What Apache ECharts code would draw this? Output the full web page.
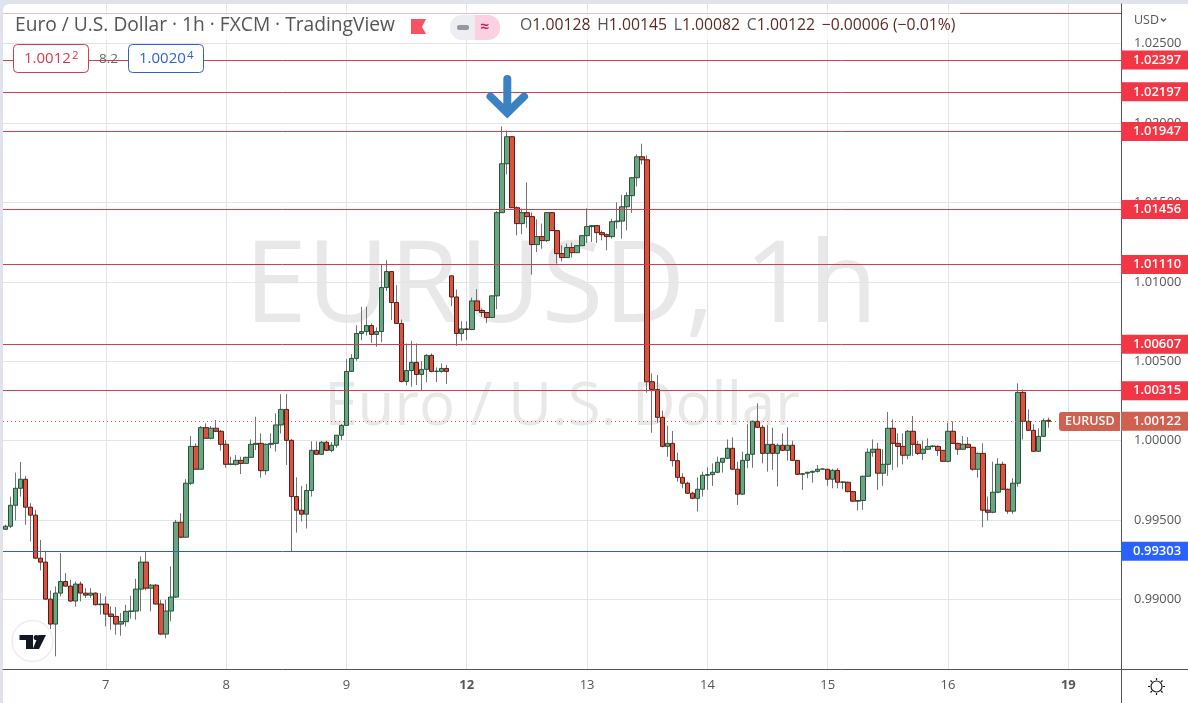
<!DOCTYPE html>
<html><head><meta charset="utf-8">
<style>html,body{margin:0;padding:0;background:#e0e3eb;overflow:hidden}#c{width:1188px;height:703px}</style>
<script src="https://cdn.jsdelivr.net/npm/echarts@6/dist/echarts.min.js"></script>
</head><body><div id="c"></div>
<script>
const openPrices=[.99442,.99461,.99593,.99700,.99757,.99581,.99531,.99260,.99235,.99002,
.98845,.99040,.99113,.99084,.98990,.99097,.99040,.99027,.99040,.98967,
.98971,.98908,.98893,.98845,.98860,.98925,.98927,.99065,.99235,.99071,
.99090,.98971,.98782,.98927,.99015,.99486,.99392,.99732,.99964,.99820,
1.00082,1.00015,1.00078,1.00059,.99977,.99851,.99851,.99876,.99857,.99895,
.99977,.99983,.99811,.99977,.99983,1.00099,1.00197,1.00002,.99648,.99562,
.99537,.99686,.99939,.99914,.99990,.99939,.99971,1.00034,1.00096,1.00436,
1.00518,1.00675,1.00687,1.00725,1.00669,1.00687,1.00964,1.01065,1.00870,1.00738,
1.00373,1.00442,1.00493,1.00417,1.00449,1.00537,1.00436,1.00436,1.00455,1.01038,
1.00905,1.00675,1.00704,1.00700,1.00880,1.00820,1.00807,1.00776,1.00912,1.01436,
1.01744,1.01914,1.01467,1.01367,1.01436,1.01411,1.01235,1.01285,1.01260,1.01436,
1.01323,1.01178,1.01153,1.01216,1.01184,1.01228,1.01291,1.01348,1.01354,1.01310,
1.01297,1.01285,1.01379,1.01383,1.01473,1.01543,1.01656,1.01788,1.01769,1.00371,
1.00323,1.00147,.99964,.99983,.99874,.99769,.99732,.99669,.99637,.99694,
.99782,.99786,.99801,.99864,.99889,.99952,.99820,.99663,.99876,.99914,
1.00122,1.00084,.99920,.99977,.99920,.99971,.99939,.99971,.99876,.99788,
.99795,.99801,.99807,.99820,.99820,.99757,.99813,.99738,.99738,.99679,
.99619,.99623,.99776,.99927,.99946,.99795,.99851,1.00078,.99983,.99964,
.99908,1.00059,.99977,.99920,.99946,.99964,.99964,.99939,.99870,1.00059,
.99983,.99946,.99977,.99958,.99820,.99920,.99562,.99549,.99675,.99851,
.99694,.99556,.99732,1.00304,1.00122,1.00065,.99933,1.00027,1.00128];
const closePrices=[.99461,.99593,.99700,.99757,.99581,.99531,.99260,.99235,.99002,.98845,
.99040,.99113,.99084,.98990,.99097,.99040,.99027,.99040,.98967,.98971,
.98908,.98893,.98845,.98860,.98925,.98927,.99065,.99235,.99071,.99090,
.98971,.98782,.98927,.99015,.99486,.99392,.99732,.99964,.99820,1.00082,
1.00015,1.00078,1.00059,.99977,.99851,.99853,.99876,.99857,.99895,.99977,
.99983,.99811,.99977,.99983,1.00099,1.00197,1.00002,.99648,.99562,.99537,
.99686,.99939,.99914,.99990,.99939,.99971,1.00034,1.00096,1.00436,1.00518,
1.00675,1.00687,1.00725,1.00669,1.00687,1.00964,1.01065,1.00870,1.00738,1.00373,
1.00442,1.00493,1.00417,1.00449,1.00537,1.00436,1.00438,1.00455,1.00436,1.00905,
1.00675,1.00704,1.00700,1.00880,1.00820,1.00807,1.00776,1.00912,1.01436,1.01744,
1.01914,1.01467,1.01367,1.01436,1.01411,1.01235,1.01285,1.01260,1.01436,1.01323,
1.01178,1.01153,1.01216,1.01184,1.01228,1.01291,1.01348,1.01354,1.01310,1.01297,
1.01285,1.01379,1.01383,1.01473,1.01543,1.01656,1.01788,1.01769,1.00371,1.00323,
1.00147,.99964,.99983,.99874,.99769,.99732,.99669,.99637,.99694,.99782,
.99786,.99801,.99864,.99889,.99952,.99820,.99663,.99876,.99914,1.00122,
1.00084,.99920,.99977,.99920,.99971,.99939,.99971,.99876,.99788,.99792,
.99801,.99807,.99820,.99822,.99757,.99813,.99738,.99740,.99679,.99619,
.99623,.99776,.99927,.99946,.99795,.99851,1.00078,.99983,.99964,.99908,
1.00059,.99977,.99920,.99946,.99964,.99966,.99939,.99870,1.00059,.99983,
.99946,.99977,.99958,.99820,.99920,.99562,.99549,.99675,.99851,.99694,
.99556,.99732,1.00304,1.00122,1.00065,.99933,1.00027,1.00126,1.00122];
const highPrices=[.99470,.99648,.99799,.99866,.99778,.99606,.99564,.99375,.99302,.99057,
.99082,.99292,.99166,.99124,.99113,.99113,.99071,.99071,.99044,.99040,
.99019,.98956,.98952,.98914,.98967,.99023,.99130,.99271,.99302,.99097,
.99097,.98998,.98998,.99208,.99501,.99543,.99757,1.00029,.99983,1.00092,
1.00109,1.00092,1.00130,1.00067,1.00004,.99899,.99910,.99899,.99899,1.00008,
1.00151,1.00046,.99983,1.00046,1.00172,1.00293,1.00293,1.00010,.99769,.99715,
.99728,.99996,.99996,.99998,1.00000,.99992,1.00034,1.00105,1.00514,1.00545,
1.00727,1.00843,1.00843,1.00738,1.00713,1.01111,1.01136,1.01069,1.00979,1.00763,
1.00612,1.00629,1.00612,1.00501,1.00545,1.00549,1.00461,1.00486,1.00476,1.01038,
1.00952,1.00752,1.00752,1.00901,1.00954,1.00832,1.00809,1.00914,1.01446,1.01979,
1.01953,1.01916,1.01476,1.01461,1.01627,1.01438,1.01394,1.01367,1.01440,1.01440,
1.01325,1.01230,1.01241,1.01247,1.01232,1.01293,1.01463,1.01356,1.01358,1.01323,
1.01304,1.01398,1.01501,1.01549,1.01564,1.01660,1.01803,1.01870,1.01796,1.00423,
1.00413,1.00189,1.00094,1.00061,.99925,.99795,.99742,.99679,.99769,.99805,
.99832,.99857,.99899,.99891,1.00008,1.00021,.99868,.99931,1.00103,1.00126,
1.00235,1.00099,1.00099,1.00082,.99983,1.00046,1.00084,1.00000,.99878,.99795,
.99803,.99811,.99847,.99824,.99822,.99822,.99826,.99742,.99742,.99683,
.99625,.99780,.99952,1.00008,.99987,.99946,1.00180,1.00134,1.00046,1.00046,
1.00067,1.00155,.99998,1.00000,1.00015,.99973,.99971,.99941,1.00113,1.00122,
.99987,1.00029,1.00023,.99962,.99925,.99983,.99648,.99868,.99889,.99868,
.99698,.99763,1.00361,1.00323,1.00197,1.00103,1.00078,1.00140,1.00145];
const lowPrices=[.99438,.99449,.99497,.99648,.99470,.99365,.99254,.99183,.98998,.98814,
.98642,.99019,.99082,.98986,.98956,.98988,.99009,.99009,.98962,.98904,
.98830,.98809,.98778,.98772,.98830,.98879,.98872,.98925,.99057,.98925,
.98967,.98776,.98755,.98862,.99009,.99386,.99392,.99721,.99820,.99820,
1.00015,1.00008,1.00054,.99937,.99830,.99845,.99843,.99790,.99857,.99895,
.99941,.99767,.99784,.99952,.99931,1.00045,.99847,.99302,.99421,.99491,
.99447,.99648,.99914,.99914,.99935,.99927,.99956,1.00004,1.00096,1.00436,
1.00503,1.00633,1.00662,1.00616,1.00591,1.00620,1.00943,1.00759,1.00738,1.00367,
1.00348,1.00340,1.00350,1.00319,1.00369,1.00430,1.00369,1.00428,1.00358,1.00847,
1.00597,1.00629,1.00633,1.00696,1.00817,1.00780,1.00740,1.00776,1.00828,1.01434,
1.01677,1.01465,1.01293,1.01300,1.01341,1.01046,1.01188,1.01209,1.01251,1.01321,
1.01115,1.01128,1.01151,1.01153,1.01182,1.01226,1.01245,1.01251,1.01245,1.01262,
1.01199,1.01272,1.01335,1.01272,1.01325,1.01434,1.01601,1.01740,1.00302,1.00050,
1.00113,.99958,.99899,.99837,.99742,.99700,.99665,.99631,.99554,.99648,
.99690,.99715,.99795,.99799,.99885,.99816,.99595,.99658,.99826,.99830,
1.00078,.99857,.99805,.99816,.99711,.99935,.99874,.99872,.99784,.99690,
.99763,.99736,.99799,.99816,.99715,.99700,.99700,.99694,.99675,.99614,
.99560,.99564,.99774,.99899,.99690,.99715,.99778,.99816,.99832,.99851,
.99883,.99904,.99910,.99878,.99941,.99958,.99904,.99866,.99864,.99981,
.99910,.99941,.99952,.99811,.99767,.99455,.99497,.99543,.99669,.99690,
.99539,.99539,.99711,1.00008,1.00061,.99931,.99929,1.00025,1.00082];
const slotCount=223;
const dayTickSlots=[20,44,68,92,116,140,164,188,212];
const dayTickLabels=['7','8','9','12','13','14','15','16','19'];
const boldDayLabels=['12','19'];
const priceTicks=[0.99,0.995,1,1.005,1.01,1.015,1.02,1.025];
const unlabelledLevels=[1.02691];
const resistanceLevels=[1.02397,1.02197,1.01947,1.01456,1.01110,1.00607,1.00315];
const supportLevels=[0.99303];
const lastPrice=1.00122;

const FONT='"Open Sans",sans-serif';
const categories=Array.from({length:slotCount},(_,i)=>{const k=dayTickSlots.indexOf(i);return k>=0?dayTickLabels[k]:'';});
const isDay=(i,v)=>v!=='';
const wickData=openPrices.map((o,i)=>[o,closePrices[i],lowPrices[i],highPrices[i]]);
const bodyData=openPrices.map((o,i)=>{const c=closePrices[i];return [o,c,Math.min(o,c),Math.max(o,c)];});

function tag(v,bg){return {show:true,position:'end',distance:0,formatter:v.toFixed(5),color:'#fff',fontFamily:FONT,fontSize:13,fontWeight:600,
 backgroundColor:bg,padding:[3,0,3,12],width:55,height:13,lineHeight:13,align:'left'};}
const levelLines=[
 ...unlabelledLevels.map(v=>({yAxis:v,lineStyle:{color:'#cf3f4d',width:1,type:'solid'},label:{show:false}})),
 ...resistanceLevels.map(v=>({yAxis:v,lineStyle:{color:'#cf3f4d',width:1,type:'solid'},label:tag(v,'#f23645')})),
 ...supportLevels.map(v=>({yAxis:v,lineStyle:{color:'#2a62c8',width:1,type:'solid'},label:tag(v,'#2962ff')})),
 {yAxis:lastPrice,lineStyle:{color:'#d75442',width:1,type:[1,3]},label:tag(lastPrice,'#d0604f')}
];
const G=[];
const T=(x,y,text,o)=>G.push({type:'text',z:110,silent:true,x,y,style:Object.assign({text,fontFamily:FONT,fontSize:13,fill:'#555',textVerticalAlign:'middle',verticalAlign:'middle'},o||{})});
G.push({type:'rect',z:-10,silent:true,shape:{x:3,y:4,width:1185,height:699,r:[6,0,0,0]},style:{fill:'#fff'}});
// watermark
G.push({type:'text',z:-5,silent:true,x:561,y:290,style:{text:'EURUSD, 1h',fontFamily:FONT,fontSize:113,fill:'#e8e8e9',align:'center',verticalAlign:'middle',textAlign:'center',textVerticalAlign:'middle'}});
G.push({type:'text',z:-5,silent:true,x:562,y:408,style:{text:'Euro / U.S. Dollar',fontFamily:FONT,fontSize:60,fill:'#e8e8e9',align:'center',verticalAlign:'middle',textAlign:'center',textVerticalAlign:'middle'}});
// header veil
G.push({type:'rect',z:100,silent:true,shape:{x:3,y:11,width:957,height:29},style:{fill:'rgba(255,255,255,0.65)'}});
T(15,26,'Euro / U.S. Dollar · 1h · FXCM · TradingView',{fontSize:19.2,fill:'#555'});
G.push({type:'polygon',z:110,silent:true,shape:{points:[[411,19],[426,19],[422,27],[426,34],[411,34]]},style:{fill:'#f7525f'}});
G.push({type:'rect',z:110,silent:true,shape:{x:450,y:15,width:25,height:25,r:[12,0,0,12]},style:{fill:'#eceef1'}});
G.push({type:'rect',z:110,silent:true,shape:{x:475,y:15,width:25,height:25,r:[0,12,12,0]},style:{fill:'#fbd0e0'}});
G.push({type:'rect',z:111,silent:true,shape:{x:457,y:25,width:12,height:5,r:2},style:{fill:'#9598a1'}});
T(480,27,'≈',{fontSize:16,fill:'#c2185b',fontWeight:600});
const ohlc=[['O','1.00128'],['H','1.00145'],['L','1.00082'],['C','1.00122']];
T(520,26,ohlc.map(p=>'{l|'+p[0]+'}{v|'+p[1]+'}').join('  ')+'  {v|−0.00006 (−0.01%)}',{rich:{l:{fill:'#555',color:'#555',fontFamily:FONT,fontSize:15.75},v:{fill:'#5b2a25',color:'#5b2a25',fontFamily:FONT,fontSize:15.75}}});
// price boxes
G.push({type:'rect',z:105,silent:true,shape:{x:13.5,y:44.5,width:75,height:28,r:4},style:{fill:'#fff',stroke:'#d8394c',lineWidth:1}});
T(24,59,'1.0012',{fontSize:15,fill:'#d8394c'});
T(72,55.5,'2',{fontSize:11.5,fill:'#d8394c'});
T(99,59,'8.2',{fontSize:13.5,fill:'#666'});
G.push({type:'rect',z:105,silent:true,shape:{x:128.5,y:44.5,width:75,height:28,r:4},style:{fill:'#fff',stroke:'#2f62d0',lineWidth:1}});
T(139,59,'1.0020',{fontSize:15,fill:'#2f62d0'});
T(187,55.5,'4',{fontSize:11.5,fill:'#2f62d0'});
// arrow
G.push({type:'polyline',z:105,silent:true,shape:{points:[[507.3,79],[507.3,112]]},style:{stroke:'#3b82c4',lineWidth:8,lineCap:'round',fill:null}});
G.push({type:'polyline',z:105,silent:true,shape:{points:[[490.5,96.5],[507.3,113],[524,96.5]]},style:{stroke:'#3b82c4',lineWidth:8,lineCap:'round',lineJoin:'miter',fill:null}});
// logo
G.push({type:'circle',z:105,silent:true,shape:{cx:32.5,cy:641,r:20.5},style:{fill:'#fff',stroke:'#ededf0',lineWidth:1.5}});
G.push({type:'polygon',z:106,silent:true,shape:{points:[[19.5,635],[33,635],[33,649],[26,649],[26,640],[19.5,640]]},style:{fill:'#131722'}});
G.push({type:'circle',z:106,silent:true,shape:{cx:36.3,cy:637.5,r:2.6},style:{fill:'#131722'}});
G.push({type:'polygon',z:106,silent:true,shape:{points:[[38.5,635],[46,635],[39,649],[32.8,649]]},style:{fill:'#131722'}});
// scale frame
G.push({type:'line',z:20,silent:true,shape:{x1:1121.5,y1:669,x2:1121.5,y2:703},style:{stroke:'#50535e',lineWidth:1}});
G.push({type:'line',z:20,silent:true,shape:{x1:1121,y1:669.5,x2:1188,y2:669.5},style:{stroke:'#50535e',lineWidth:1}});
T(1134,20,'USD',{fontSize:12.5,fill:'#555'});
G.push({type:'polyline',z:110,silent:true,shape:{points:[[1161,18.5],[1163.5,21],[1166,18.5]]},style:{stroke:'#555',lineWidth:1.3,fill:null}});
// EURUSD tag
G.push({type:'rect',z:60,silent:true,shape:{x:1059,y:412,width:61,height:19,r:[3,0,0,3]},style:{fill:'#d0604f'}});
T(1065,421.5,'EURUSD',{fontSize:12.5,fill:'#fff',fontWeight:600});
// settings icon
G.push({type:'circle',z:110,silent:true,shape:{cx:1156.5,cy:686.5,r:5.5},style:{fill:'none',stroke:'#131722',lineWidth:1.2}});
[[1156.5,678,1156.5,680],[1156.5,693,1156.5,695],[1148,686.5,1150,686.5],[1163,686.5,1165,686.5],[1150.5,680.5,1152,682],[1161,691,1162.5,692.5],[1150.5,692.5,1152,691],[1161,682,1162.5,680.5]].forEach(a=>
 G.push({type:'line',z:110,silent:true,shape:{x1:a[0],y1:a[1],x2:a[2],y2:a[3]},style:{stroke:'#131722',lineWidth:1.2}}));

const chart=echarts.init(document.getElementById('c'),null,{renderer:'canvas',width:1188,height:703});
chart.setOption({
 animation:false,
 backgroundColor:'transparent',
 textStyle:{fontFamily:FONT},
 grid:{left:3,right:67,top:4,bottom:34,containLabel:false},
 tooltip:{show:false},
 xAxis:{type:'category',data:categories,boundaryGap:true,
  axisLine:{show:true,lineStyle:{color:'#50535e',width:1}},
  axisTick:{show:false,alignWithLabel:true,interval:isDay},
  splitLine:{show:true,alignWithLabel:true,interval:isDay,lineStyle:{color:'#e3e4e7',width:1}},
  axisLabel:{show:true,interval:isDay,margin:10,color:'#555',fontFamily:FONT,fontSize:13,
   formatter:v=>boldDayLabels.includes(v)?'{b|'+v+'}':v,rich:{b:{fontWeight:700,color:'#555',fontFamily:FONT,fontSize:13}}}},
 yAxis:{type:'value',position:'right',min:0.98562,max:1.0275,scale:true,
  axisLine:{show:true,onZero:false,lineStyle:{color:'#50535e',width:1}},
  axisTick:{show:false,customValues:priceTicks},
  splitLine:{show:true,lineStyle:{color:'#e3e4e7',width:1}},
  axisLabel:{show:true,customValues:priceTicks,margin:13,padding:[2,0,0,0],color:'#555',fontFamily:FONT,fontSize:12.8,formatter:v=>v.toFixed(5),showMinLabel:true,showMaxLabel:true}},
 series:[
  {type:'candlestick',name:'wicks',data:wickData,barWidth:1,z:2,silent:true,
   itemStyle:{color:'#737375',color0:'#737375',borderColor:'#737375',borderColor0:'#737375',borderColorDoji:'#737375',borderWidth:1}},
  {type:'candlestick',name:'bodies',data:bodyData,barWidth:5,z:3,silent:true,
   itemStyle:{color:'#6ba583',color0:'#d75442',borderColor:'#225437',borderColor0:'#5b1a13',borderColorDoji:'#5b1a13',borderWidth:1},
   markLine:{silent:true,symbol:'none',animation:false,precision:5,data:levelLines}}
 ],
 graphic:{elements:G}
});
</script></body></html>
